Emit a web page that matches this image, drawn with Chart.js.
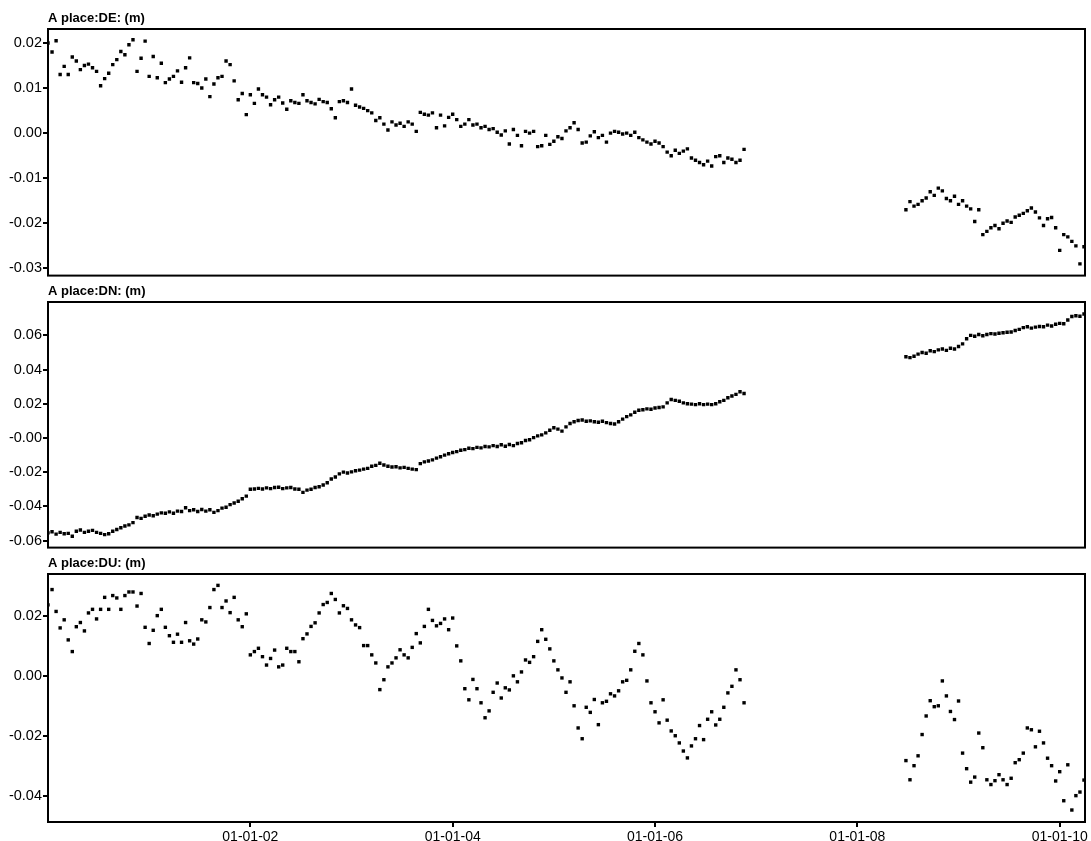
<!DOCTYPE html>
<html>
<head>
<meta charset="utf-8">
<script src="https://cdn.jsdelivr.net/npm/chart.js@4.4.1/dist/chart.umd.min.js"></script>
<style>
  html, body { margin: 0; padding: 0; background: #fff; }
  #wrap { position: relative; width: 1091px; height: 841px; }
  canvas { position: absolute; left: 0; }
</style>
</head>
<body>
<div id="wrap">
  <canvas id="chartDE" width="1091" height="278" style="top:0px"></canvas>
  <canvas id="chartDN" width="1091" height="272" style="top:278px"></canvas>
  <canvas id="chartDU" width="1091" height="291" style="top:550px"></canvas>
</div>
<script>
// epochs in decimal years, first and second block of observations
const epochs1 = [
  2000.00, 2000.04, 2000.08, 2000.12, 2000.16, 2000.20, 2000.24, 2000.28, 2000.32, 2000.36, 2000.40, 2000.44, 2000.48, 2000.52, 2000.56, 2000.60, 2000.64, 2000.68, 2000.72, 2000.76, 2000.80, 2000.84, 2000.88, 2000.92, 2000.96,
  2001.00, 2001.04, 2001.08, 2001.12, 2001.16, 2001.20, 2001.24, 2001.28, 2001.32, 2001.36, 2001.40, 2001.44, 2001.48, 2001.52, 2001.56, 2001.60, 2001.64, 2001.68, 2001.72, 2001.76, 2001.80, 2001.84, 2001.88, 2001.92, 2001.96,
  2002.00, 2002.04, 2002.08, 2002.12, 2002.16, 2002.20, 2002.24, 2002.28, 2002.32, 2002.36, 2002.40, 2002.44, 2002.48, 2002.52, 2002.56, 2002.60, 2002.64, 2002.68, 2002.72, 2002.76, 2002.80, 2002.84, 2002.88, 2002.92, 2002.96,
  2003.00, 2003.04, 2003.08, 2003.12, 2003.16, 2003.20, 2003.24, 2003.28, 2003.32, 2003.36, 2003.40, 2003.44, 2003.48, 2003.52, 2003.56, 2003.60, 2003.64, 2003.68, 2003.72, 2003.76, 2003.80, 2003.84, 2003.88, 2003.92, 2003.96,
  2004.00, 2004.04, 2004.08, 2004.12, 2004.16, 2004.20, 2004.24, 2004.28, 2004.32, 2004.36, 2004.40, 2004.44, 2004.48, 2004.52, 2004.56, 2004.60, 2004.64, 2004.68, 2004.72, 2004.76, 2004.80, 2004.84, 2004.88, 2004.92, 2004.96,
  2005.00, 2005.04, 2005.08, 2005.12, 2005.16, 2005.20, 2005.24, 2005.28, 2005.32, 2005.36, 2005.40, 2005.44, 2005.48, 2005.52, 2005.56, 2005.60, 2005.64, 2005.68, 2005.72, 2005.76, 2005.80, 2005.84, 2005.88, 2005.92, 2005.96,
  2006.00, 2006.04, 2006.08, 2006.12, 2006.16, 2006.20, 2006.24, 2006.28, 2006.32, 2006.36, 2006.40, 2006.44, 2006.48, 2006.52, 2006.56, 2006.60, 2006.64, 2006.68, 2006.72, 2006.76, 2006.80, 2006.84, 2006.88
];
const epochs2 = [
  2008.48, 2008.52, 2008.56, 2008.60, 2008.64, 2008.68, 2008.72, 2008.76, 2008.80, 2008.84, 2008.88, 2008.92, 2008.96,
  2009.00, 2009.04, 2009.08, 2009.12, 2009.16, 2009.20, 2009.24, 2009.28, 2009.32, 2009.36, 2009.40, 2009.44, 2009.48, 2009.52, 2009.56, 2009.60, 2009.64, 2009.68, 2009.72, 2009.76, 2009.80, 2009.84, 2009.88, 2009.92, 2009.96,
  2010.00, 2010.04, 2010.08, 2010.12, 2010.16, 2010.20, 2010.24
];

// DE (m)
const de1 = [
  0.0200, 0.0180, 0.0205, 0.0130, 0.0148, 0.0130, 0.0169, 0.0160, 0.0141, 0.0150,
  0.0153, 0.0145, 0.0137, 0.0105, 0.0121, 0.0133, 0.0152, 0.0163, 0.0181, 0.0174,
  0.0196, 0.0207, 0.0137, 0.0166, 0.0204, 0.0126, 0.0170, 0.0123, 0.0155, 0.0112,
  0.0120, 0.0126, 0.0138, 0.0113, 0.0145, 0.0167, 0.0112, 0.0110, 0.0100, 0.0120,
  0.0081, 0.0109, 0.0123, 0.0126, 0.0160, 0.0152, 0.0116, 0.0074, 0.0088, 0.0041,
  0.0085, 0.0066, 0.0098, 0.0085, 0.0080, 0.0063, 0.0074, 0.0080, 0.0067, 0.0053,
  0.0072, 0.0068, 0.0066, 0.0085, 0.0072, 0.0068, 0.0065, 0.0075, 0.0070, 0.0068,
  0.0054, 0.0034, 0.0070, 0.0072, 0.0068, 0.0098, 0.0062, 0.0058, 0.0055, 0.0050,
  0.0045, 0.0028, 0.0034, 0.0020, 0.0007, 0.0025, 0.0018, 0.0022, 0.0015, 0.0025,
  0.0020, 0.0004, 0.0046, 0.0042, 0.0040, 0.0045, 0.0012, 0.0040, 0.0016, 0.0035,
  0.0042, 0.0030, 0.0015, 0.0020, 0.0030, 0.0018, 0.0020, 0.0012, 0.0015, 0.0008,
  0.0010, 0.0002, -0.0004, 0.0005, -0.0024, 0.0008, -0.0005, -0.0028, 0.0004, 0.0000,
  0.0004, -0.0030, -0.0028, -0.0005, -0.0025, -0.0018, -0.0008, -0.0012, 0.0005, 0.0012,
  0.0023, 0.0008, -0.0022, -0.0020, -0.0006, 0.0003, -0.0010, -0.0005, -0.0020, 0.0000,
  0.0004, 0.0002, -0.0002, 0.0000, -0.0005, 0.0002, -0.0010, -0.0015, -0.0020, -0.0024,
  -0.0018, -0.0022, -0.0030, -0.0042, -0.0050, -0.0038, -0.0045, -0.0040, -0.0035, -0.0055,
  -0.0060, -0.0065, -0.0070, -0.0062, -0.0073, -0.0052, -0.0050, -0.0065, -0.0055, -0.0058,
  -0.0065, -0.0060, -0.0036
];
const de2 = [
  -0.0170, -0.0152, -0.0162, -0.0158, -0.0150, -0.0144, -0.0130, -0.0138, -0.0122, -0.0128,
  -0.0145, -0.0150, -0.0140, -0.0158, -0.0150, -0.0162, -0.0168, -0.0196, -0.0170, -0.0225,
  -0.0218, -0.0210, -0.0205, -0.0212, -0.0200, -0.0195, -0.0198, -0.0186, -0.0182, -0.0178,
  -0.0172, -0.0166, -0.0175, -0.0188, -0.0205, -0.0190, -0.0187, -0.0210, -0.0260, -0.0225,
  -0.0230, -0.0240, -0.0250, -0.0290, -0.0252
];

// DN (m)
const dn1 = [
  -0.0555, -0.0548, -0.0562, -0.0552, -0.0560, -0.0558, -0.0575, -0.0545, -0.0538, -0.0552,
  -0.0545, -0.0540, -0.0552, -0.0558, -0.0565, -0.0560, -0.0545, -0.0535, -0.0525, -0.0515,
  -0.0508, -0.0495, -0.0465, -0.0470, -0.0458, -0.0450, -0.0455, -0.0445, -0.0438, -0.0440,
  -0.0432, -0.0440, -0.0428, -0.0430, -0.0408, -0.0425, -0.0420, -0.0430, -0.0418, -0.0428,
  -0.0420, -0.0435, -0.0425, -0.0410, -0.0405, -0.0390, -0.0380, -0.0370, -0.0355, -0.0340,
  -0.0300, -0.0298, -0.0295, -0.0298, -0.0292, -0.0296, -0.0290, -0.0288, -0.0296, -0.0292,
  -0.0290, -0.0298, -0.0300, -0.0318, -0.0305, -0.0300, -0.0290, -0.0285, -0.0275, -0.0262,
  -0.0240, -0.0228, -0.0210, -0.0200, -0.0205, -0.0198, -0.0192, -0.0188, -0.0182, -0.0178,
  -0.0165, -0.0160, -0.0148, -0.0158, -0.0165, -0.0170, -0.0168, -0.0175, -0.0172, -0.0178,
  -0.0182, -0.0185, -0.0150, -0.0140, -0.0135, -0.0128, -0.0118, -0.0110, -0.0100, -0.0092,
  -0.0085, -0.0080, -0.0072, -0.0068, -0.0060, -0.0062, -0.0055, -0.0058, -0.0050, -0.0052,
  -0.0045, -0.0050, -0.0040, -0.0048, -0.0038, -0.0045, -0.0032, -0.0028, -0.0015, -0.0010,
  0.0002, 0.0012, 0.0018, 0.0030, 0.0045, 0.0060, 0.0052, 0.0040, 0.0065, 0.0085,
  0.0095, 0.0102, 0.0105, 0.0098, 0.0100, 0.0095, 0.0092, 0.0098, 0.0090, 0.0085,
  0.0082, 0.0095, 0.0110, 0.0125, 0.0135, 0.0150, 0.0162, 0.0165, 0.0170, 0.0168,
  0.0175, 0.0178, 0.0182, 0.0205, 0.0225, 0.0220, 0.0215, 0.0205, 0.0200, 0.0198,
  0.0195, 0.0200, 0.0195, 0.0198, 0.0195, 0.0200, 0.0212, 0.0220, 0.0235, 0.0245,
  0.0255, 0.0270, 0.0260
];
const dn2 = [
  0.0475, 0.0470, 0.0478, 0.0490, 0.0500, 0.0495, 0.0510, 0.0505, 0.0515, 0.0520,
  0.0512, 0.0525, 0.0520, 0.0535, 0.0550, 0.0580, 0.0600, 0.0595, 0.0605, 0.0598,
  0.0605, 0.0610, 0.0608, 0.0612, 0.0615, 0.0618, 0.0620, 0.0628, 0.0635, 0.0645,
  0.0650, 0.0642, 0.0648, 0.0652, 0.0650, 0.0660, 0.0655, 0.0665, 0.0670, 0.0668,
  0.0690, 0.0710, 0.0715, 0.0712, 0.0725
];

// DU (m)
const du1 = [
  0.0237, 0.0288, 0.0215, 0.0160, 0.0187, 0.0120, 0.0081, 0.0164, 0.0178, 0.0150,
  0.0210, 0.0222, 0.0190, 0.0222, 0.0262, 0.0222, 0.0268, 0.0260, 0.0222, 0.0268,
  0.0280, 0.0280, 0.0233, 0.0275, 0.0162, 0.0108, 0.0152, 0.0201, 0.0222, 0.0162,
  0.0134, 0.0112, 0.0139, 0.0112, 0.0178, 0.0117, 0.0106, 0.0123, 0.0187, 0.0180,
  0.0228, 0.0288, 0.0302, 0.0228, 0.0250, 0.0211, 0.0262, 0.0187, 0.0164, 0.0207,
  0.0070, 0.0081, 0.0092, 0.0064, 0.0036, 0.0058, 0.0086, 0.0030, 0.0036, 0.0092,
  0.0081, 0.0081, 0.0047, 0.0124, 0.0140, 0.0165, 0.0177, 0.0210, 0.0238, 0.0245,
  0.0275, 0.0255, 0.0210, 0.0234, 0.0225, 0.0187, 0.0170, 0.0161, 0.0101, 0.0101,
  0.0070, 0.0043, -0.0046, -0.0013, 0.0030, 0.0043, 0.0060, 0.0087, 0.0070, 0.0060,
  0.0095, 0.0141, 0.0110, 0.0165, 0.0222, 0.0185, 0.0167, 0.0175, 0.0190, 0.0154,
  0.0193, 0.0100, 0.0050, -0.0043, -0.0080, -0.0012, -0.0043, -0.0090, -0.0140, -0.0117,
  -0.0055, -0.0024, -0.0074, -0.0040, -0.0047, 0.0000, -0.0020, 0.0013, 0.0053, 0.0045,
  0.0064, 0.0115, 0.0154, 0.0122, 0.0090, 0.0050, 0.0020, -0.0007, -0.0055, -0.0020,
  -0.0100, -0.0174, -0.0210, -0.0105, -0.0122, -0.0079, -0.0163, -0.0090, -0.0085, -0.0060,
  -0.0067, -0.0050, -0.0020, -0.0015, 0.0020, 0.0082, 0.0108, 0.0070, -0.0017, -0.0090,
  -0.0120, -0.0157, -0.0080, -0.0148, -0.0184, -0.0200, -0.0224, -0.0251, -0.0274, -0.0234,
  -0.0210, -0.0166, -0.0213, -0.0145, -0.0120, -0.0164, -0.0145, -0.0105, -0.0057, -0.0035,
  0.0020, -0.0013, -0.0090
];
const du2 = [
  -0.0283, -0.0347, -0.0300, -0.0267, -0.0196, -0.0134, -0.0083, -0.0103, -0.0100, -0.0017,
  -0.0067, -0.0119, -0.0146, -0.0084, -0.0258, -0.0310, -0.0355, -0.0338, -0.0191, -0.0240,
  -0.0347, -0.0363, -0.0350, -0.0330, -0.0347, -0.0363, -0.0342, -0.0290, -0.0280, -0.0258,
  -0.0174, -0.0180, -0.0237, -0.0185, -0.0224, -0.0275, -0.0300, -0.0351, -0.0320, -0.0417,
  -0.0297, -0.0448, -0.0400, -0.0388, -0.0348
];

// tick positions and labels
const xTickValues = [2002, 2004, 2006, 2008, 2010];
const xTickLabels = ['01-01-02', '01-01-04', '01-01-06', '01-01-08', '01-01-10'];
const deTickValues = [0.02, 0.01, 0.00, -0.01, -0.02, -0.03];
const deTickLabels = ['0.02', '0.01', '0.00', '-0.01', '-0.02', '-0.03'];
const dnTickValues = [0.06, 0.04, 0.02, 0.00, -0.02, -0.04, -0.06];
const dnTickLabels = ['0.06', '0.04', '0.02', '-0.00', '-0.02', '-0.04', '-0.06'];
const duTickValues = [0.02, 0.00, -0.02, -0.04];
const duTickLabels = ['0.02', '0.00', '-0.02', '-0.04'];

const FONT = '"Liberation Sans", Arial, Helvetica, sans-serif';

// box round the plot area + panel title above it
const panelFrame = {
  id: 'panelFrame',
  afterDraw(chart, args, opts) {
    const { ctx, chartArea: a } = chart;
    ctx.save();
    ctx.strokeStyle = '#000';
    ctx.lineWidth = 2;
    ctx.strokeRect(a.left, a.top, a.right - a.left, a.bottom - a.top);
    ctx.fillStyle = '#000';
    ctx.font = 'bold 13px ' + FONT;
    ctx.textAlign = 'left';
    ctx.textBaseline = 'middle';
    ctx.fillText(opts.title, a.left, a.top - 11);
    ctx.restore();
  }
};

function makePanel(id, title, vals1, vals2, yMin, yMax, yTicks, yLabels, padTop, padBottom, showX) {
  const points = epochs1.map((x, i) => ({ x: x, y: vals1[i] }))
    .concat(epochs2.map((x, i) => ({ x: x, y: vals2[i] })));

  return new Chart(document.getElementById(id), {
    type: 'scatter',
    data: {
      datasets: [{
        data: points,
        pointStyle: 'rect',
        pointRadius: 2.4,
        pointHoverRadius: 2.4,
        backgroundColor: '#000',
        borderWidth: 0
      }]
    },
    options: {
      responsive: false,
      animation: false,
      devicePixelRatio: 1,
      layout: { padding: { top: padTop, bottom: padBottom, left: 0, right: 6 } },
      plugins: {
        legend: { display: false },
        tooltip: { enabled: false },
        panelFrame: { title: title }
      },
      scales: {
        x: {
          type: 'linear',
          min: 2000.0,
          max: 2010.25,
          bounds: 'data',
          display: showX,
          afterBuildTicks: (s) => { s.ticks = xTickValues.map((v) => ({ value: v })); },
          afterFit: (s) => { s.height = showX ? 19 : 0; s.paddingLeft = 0; s.paddingRight = 0; },
          grid: { drawOnChartArea: false, drawTicks: true, tickLength: 5, color: '#000', lineWidth: 2 },
          border: { display: false },
          ticks: {
            padding: 2,
            autoSkip: false,
            maxRotation: 0,
            color: '#000',
            font: { family: FONT, size: 14 },
            callback: (v, i) => xTickLabels[i]
          }
        },
        y: {
          min: yMin,
          max: yMax,
          bounds: 'data',
          afterBuildTicks: (s) => { s.ticks = yTicks.map((v) => ({ value: v })); },
          afterFit: (s) => { s.width = 48; s.paddingTop = 0; s.paddingBottom = 0; },
          grid: { drawOnChartArea: false, drawTicks: true, tickLength: 5, color: '#000', lineWidth: 2 },
          border: { display: false },
          ticks: {
            padding: 1,
            color: '#000',
            font: { family: FONT, size: 14.5 },
            callback: (v, i) => yLabels[i]
          }
        }
      }
    },
    plugins: [panelFrame]
  });
}

makePanel('chartDE', 'A place:DE: (m)', de1, de2, -0.0316, 0.0231, deTickValues, deTickLabels, 29, 2, false);
makePanel('chartDN', 'A place:DN: (m)', dn1, dn2, -0.0641, 0.0795, dnTickValues, dnTickLabels, 24, 2, false);
makePanel('chartDU', 'A place:DU: (m)', du1, du2, -0.0488, 0.0340, duTickValues, duTickLabels, 24, 0, true);
</script>
</body>
</html>
